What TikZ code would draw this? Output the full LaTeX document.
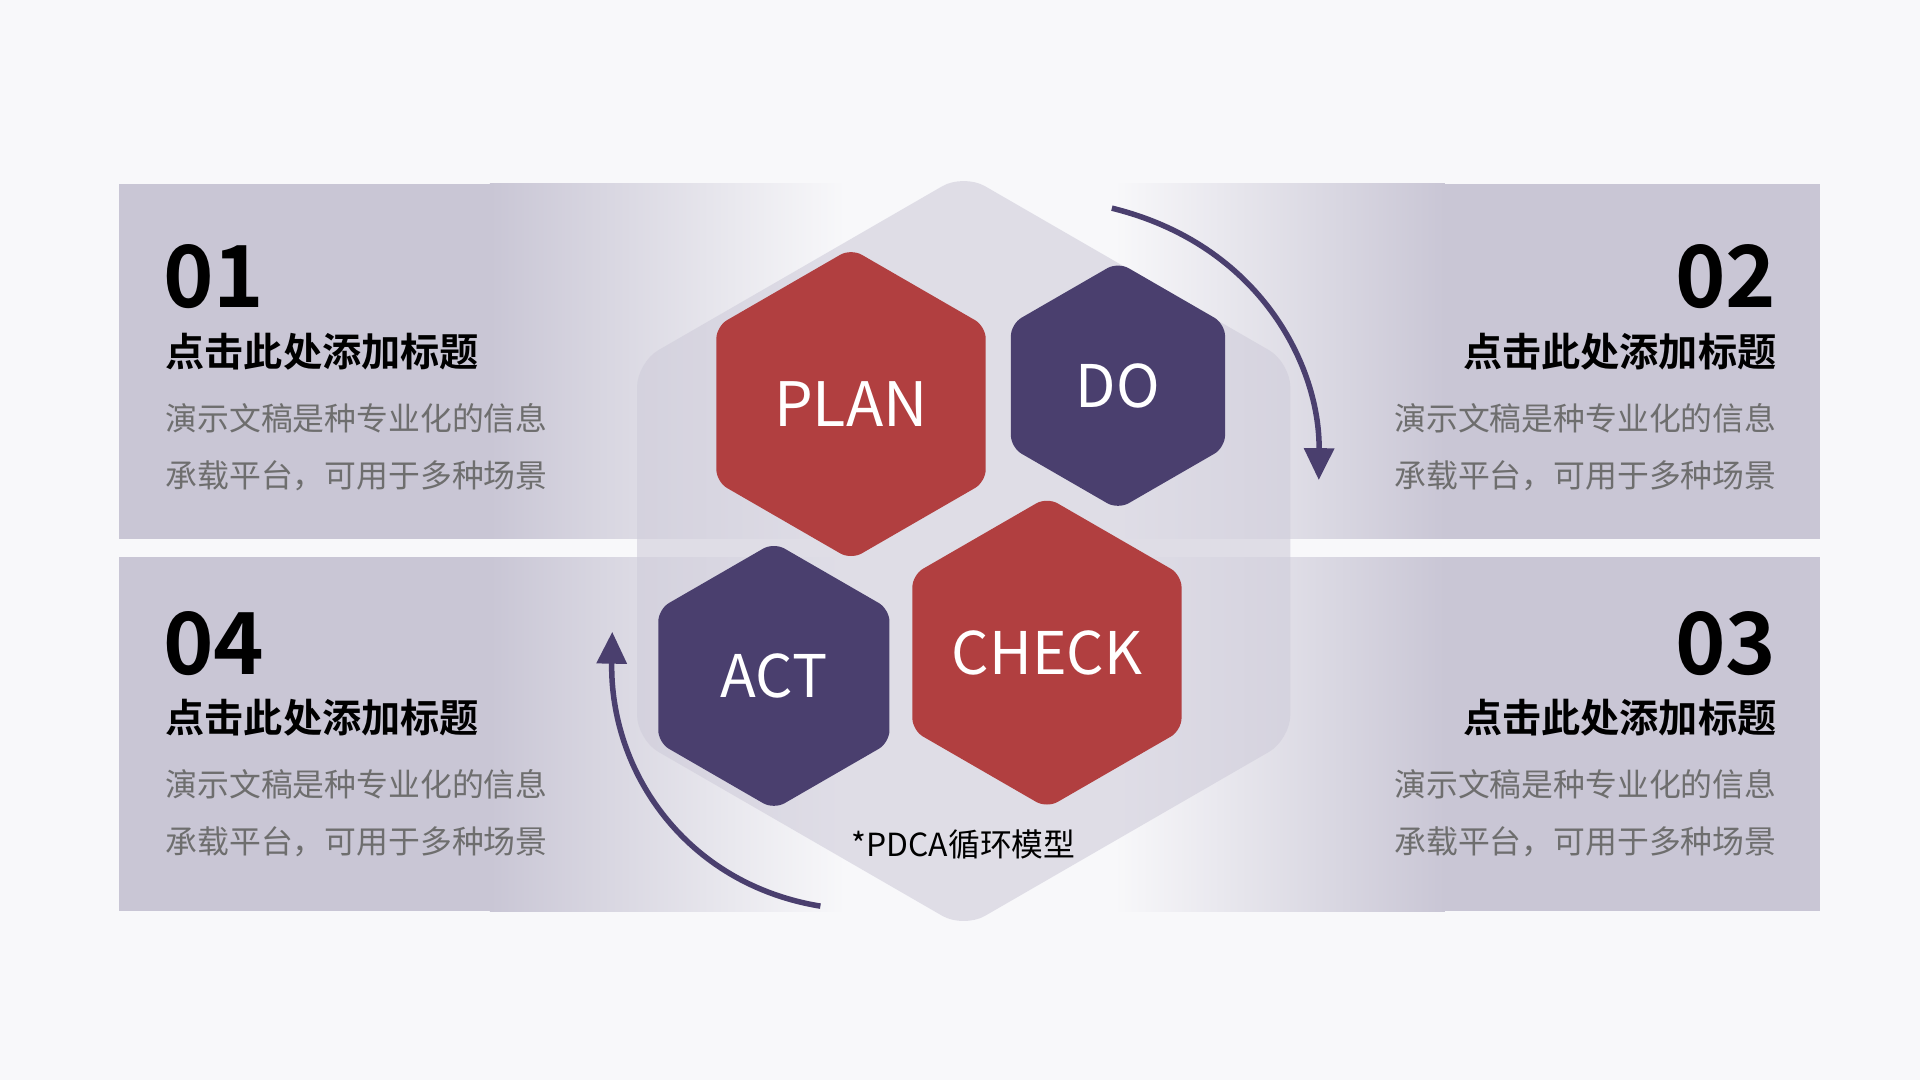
\documentclass[tikz,border=0pt]{standalone}
\usepackage{fontspec}
\setmainfont{Noto Sans CJK SC}[BoldFont={Noto Sans CJK SC Bold}]
\usetikzlibrary{shapes.geometric,arrows.meta}
\definecolor{bg}{HTML}{F8F8FA}
\definecolor{band}{HTML}{C9C6D5}
\definecolor{hred}{HTML}{B13F40}
\definecolor{hpur}{HTML}{4A3F6E}
\definecolor{big}{HTML}{CFCCDA}
\definecolor{txtg}{HTML}{6E6E6E}
\tikzset{
 hexa/.style={regular polygon,regular polygon sides=6,shape border rotate=30,inner sep=0pt,rounded corners=10pt,text=white},
 num/.style={font=\bfseries\fontsize{70}{70}\selectfont,inner sep=0pt},
 ttl/.style={font=\bfseries\fontsize{32}{34}\selectfont,inner sep=0pt},
 body/.style={font=\fontsize{26}{47}\selectfont,text=txtg,inner sep=0pt,align=left},
 arr/.style={draw=hpur,line width=4.5pt,-{Triangle[length=26pt,width=24pt]}}
}
\begin{document}
\begin{tikzpicture}[x=1pt,y=-1pt]
\fill[bg] (0,0) rectangle (1568,882);
\useasboundingbox (0,0) rectangle (1568,882);
% bands
\fill[band] (97,150) rectangle (400,440);
\shade[left color=band,right color=bg] (400,150) rectangle (690,440);
\fill[band] (97,455) rectangle (400,744);
\shade[left color=band,right color=bg] (400,455) rectangle (690,744);
\fill[band] (1180,150) rectangle (1486,440);
\shade[left color=bg,right color=band] (910,150) rectangle (1180,440);
\fill[band] (1180,455) rectangle (1486,744);
\shade[left color=bg,right color=band] (910,455) rectangle (1180,744);
% big hexagon
\node[hexa,minimum size=616pt,fill=big,fill opacity=0.6,rounded corners=20pt] (bighex) at (787,450) {};
% hexagons
\node[hexa,minimum size=254pt,fill=hred,font=\fontsize{50}{50}\selectfont] (plan) at (695,330) {PLAN};
\node[hexa,minimum size=202pt,fill=hpur,font=\fontsize{48}{48}\selectfont] (do) at (913,315) {DO};
\node[hexa,minimum size=218pt,fill=hpur,font=\fontsize{48}{48}\selectfont] (act) at (632,552) {ACT};
\node[hexa,minimum size=253pt,fill=hred,font=\fontsize{48}{48}\selectfont] (check) at (855,533) {CHECK};
\node[font=\fontsize{26}{26}\selectfont] (cap) at (787,690) {*PDCA循环模型};
% arrows
\coordinate (a1) at (908,170); \coordinate (a2) at (1077,392);
\coordinate (b1) at (670,740); \coordinate (b2) at (500,516);
\draw[arr] (a1) .. controls (1030,200) and (1078,300) .. (a2);
\draw[arr] (b1) .. controls (560,722) and (498,630) .. (b2);
% texts left
\node[num,anchor=west] (n1) at (133,226) {01};
\node[ttl,anchor=west] (t1) at (135,287) {点击此处添加标题};
\node[body,anchor=north west] (d1) at (135,329) {演示文稿是种专业化的信息\\承载平台，可用于多种场景};
\node[num,anchor=west] (n4) at (133,526) {04};
\node[ttl,anchor=west] (t4) at (135,586) {点击此处添加标题};
\node[body,anchor=north west] (d4) at (135,628) {演示文稿是种专业化的信息\\承载平台，可用于多种场景};
% texts right
\node[num,anchor=east] (n2) at (1451,226) {02};
\node[ttl,anchor=east] (t2) at (1451,287) {点击此处添加标题};
\node[body,anchor=north east] (d2) at (1451,329) {演示文稿是种专业化的信息\\承载平台，可用于多种场景};
\node[num,anchor=east] (n3) at (1451,526) {03};
\node[ttl,anchor=east] (t3) at (1451,586) {点击此处添加标题};
\node[body,anchor=north east] (d3) at (1451,628) {演示文稿是种专业化的信息\\承载平台，可用于多种场景};
\end{tikzpicture}
\end{document}
